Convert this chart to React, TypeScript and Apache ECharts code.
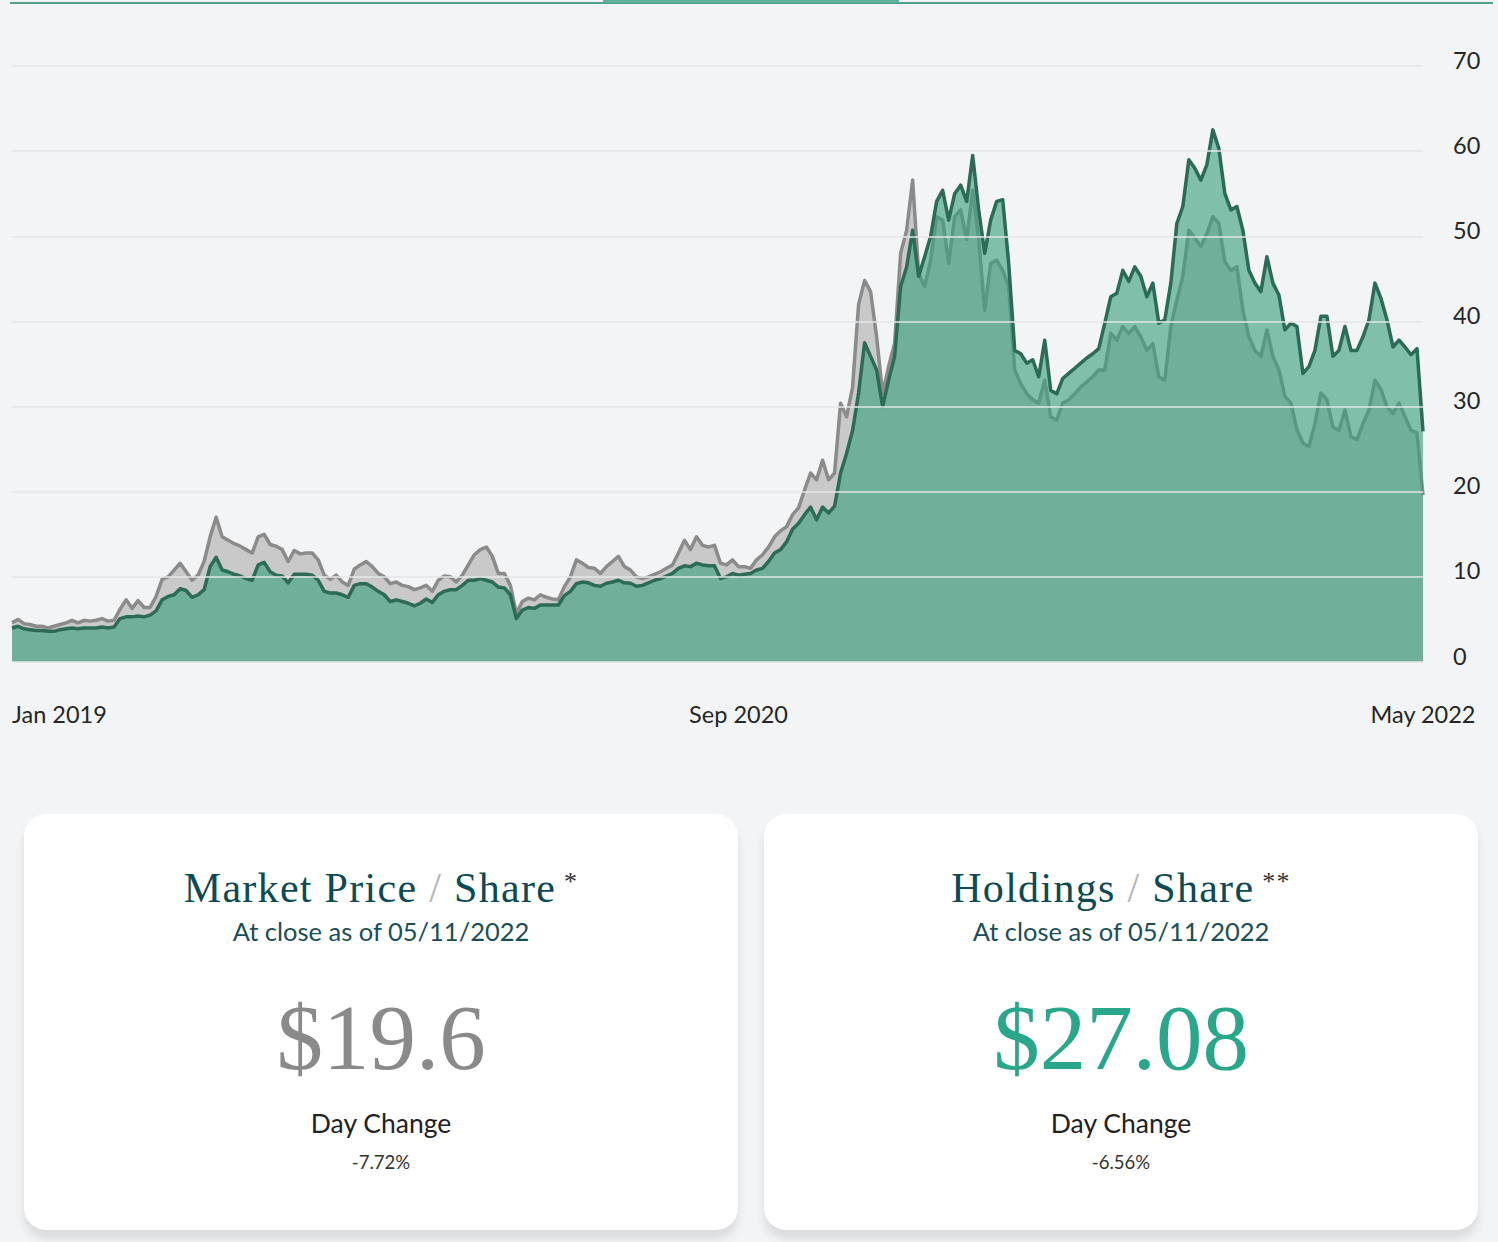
import React, { useEffect, useRef } from "react";
import * as echarts from "echarts";

// Market price per share (grey series), sampled evenly from Jan 2019 to 05/11/2022
const marketPrice = [
  4.6, 5.0, 4.5, 4.4, 4.2, 4.2, 4.0, 4.2, 4.4, 4.6,
  4.9, 4.6, 4.9, 4.8, 4.9, 5.1, 4.8, 4.9, 6.2, 7.3,
  6.3, 7.2, 6.4, 6.4, 7.7, 9.7, 10.0, 10.8, 11.6, 10.6,
  9.6, 10.2, 11.8, 14.7, 17.0, 14.7, 14.3, 13.9, 13.6, 13.2,
  12.8, 14.7, 15.0, 13.8, 13.6, 13.2, 11.8, 13.1, 12.7, 12.8,
  12.8, 12.0, 10.2, 9.7, 10.2, 9.4, 9.0, 10.9, 11.4, 11.8,
  11.2, 10.4, 10.0, 9.2, 9.4, 9.0, 8.85, 8.5, 8.7, 9.0,
  8.3, 9.6, 10.1, 10.0, 9.4, 10.2, 11.4, 12.6, 13.2, 13.5,
  12.4, 10.4, 10.4, 9.0, 5.7, 7.1, 7.5, 7.3, 7.9, 7.6,
  7.4, 7.3, 8.85, 10.0, 12.0, 11.6, 11.1, 11.0, 10.4, 11.2,
  11.8, 12.4, 11.2, 10.8, 10.0, 9.8, 10.0, 10.3, 10.6, 11.0,
  11.4, 12.8, 14.3, 13.2, 14.7, 13.7, 13.5, 13.7, 11.6, 11.4,
  12.0, 11.2, 11.2, 11.0, 12.0, 12.6, 13.5, 14.7, 15.4, 15.9,
  17.3, 18.1, 20.2, 22.2, 21.4, 23.7, 21.4, 22.2, 30.4, 28.8,
  32.3, 42.0, 44.8, 43.5, 38.2, 31.5, 34.7, 37.4, 48.0, 50.7,
  56.6, 45.6, 44.1, 47.2, 52.3, 51.9, 46.8, 52.3, 53.1, 49.6,
  55.4, 49.6, 41.3, 46.8, 47.2, 46.0, 44.1, 34.3, 32.7, 31.5,
  30.8, 30.4, 33.1, 28.8, 28.4, 30.4, 30.8, 31.5, 32.3, 32.9,
  33.5, 34.3, 34.3, 38.6, 37.8, 39.4, 38.6, 39.4, 38.2, 36.6,
  37.4, 33.5, 33.1, 39.4, 42.5, 45.3, 50.7, 49.8, 48.8, 50.3,
  52.3, 51.5, 47.0, 46.0, 46.4, 41.3, 38.2, 36.6, 35.9, 39.0,
  35.9, 34.3, 31.2, 30.4, 27.3, 25.7, 25.3, 28.0, 31.6, 30.8,
  27.6, 27.2, 29.6, 26.5, 26.1, 28.0, 29.6, 33.1, 32.0, 30.0,
  29.2, 30.4, 28.8, 27.2, 26.9, 19.6,
];

// Holdings per share (green series)
const holdings = [
  4.0, 4.2, 3.9, 3.8, 3.7, 3.7, 3.6, 3.6, 3.8, 3.9,
  4.0, 3.9, 4.0, 4.0, 4.0, 4.1, 4.0, 4.1, 5.1, 5.3,
  5.3, 5.4, 5.3, 5.5, 6.0, 7.3, 7.7, 7.9, 8.6, 8.4,
  7.6, 7.9, 8.5, 11.2, 12.3, 10.8, 10.6, 10.3, 10.1, 9.8,
  9.6, 11.4, 11.7, 10.6, 10.2, 10.1, 9.3, 10.3, 10.3, 10.3,
  10.2, 9.6, 8.3, 8.1, 8.1, 7.9, 7.6, 9.0, 9.2, 9.2,
  8.8, 8.3, 7.9, 7.1, 7.3, 7.1, 6.9, 6.6, 6.9, 7.4,
  7.0, 7.9, 8.3, 8.5, 8.5, 9.0, 9.6, 9.6, 9.8, 9.6,
  9.4, 8.8, 8.7, 7.9, 5.1, 6.1, 6.4, 6.3, 6.7, 6.7,
  6.7, 6.7, 7.8, 8.3, 9.2, 9.4, 9.3, 9.0, 8.9, 9.25,
  9.4, 9.6, 9.3, 9.25, 8.9, 9.0, 9.3, 9.6, 9.8, 10.1,
  10.4, 11.0, 11.3, 11.2, 11.6, 11.4, 11.3, 11.3, 9.8, 10.0,
  10.4, 10.2, 10.3, 10.4, 10.8, 11.0, 11.8, 12.8, 13.2, 14.1,
  15.6, 16.3, 17.3, 18.2, 16.7, 18.2, 17.5, 18.3, 22.2, 24.5,
  27.2, 31.6, 37.5, 35.9, 34.3, 30.0, 33.1, 35.9, 44.1, 46.4,
  50.7, 45.3, 47.6, 50.0, 54.1, 55.4, 51.9, 55.0, 56.0, 54.1,
  59.5, 53.1, 48.0, 51.9, 54.1, 54.3, 46.8, 36.6, 36.2, 35.1,
  35.5, 33.5, 37.8, 31.9, 31.5, 33.3, 33.9, 34.5, 35.1, 35.7,
  36.2, 36.8, 39.8, 42.9, 43.3, 46.0, 44.7, 46.4, 45.3, 42.9,
  44.5, 39.8, 40.2, 44.5, 51.5, 53.5, 59.0, 58.0, 56.6, 58.4,
  62.5, 60.3, 55.0, 53.1, 53.5, 50.7, 46.0, 44.5, 43.5, 47.6,
  44.5, 43.1, 39.0, 39.8, 39.4, 33.9, 34.7, 36.6, 40.6, 40.6,
  35.9, 36.6, 39.4, 36.6, 36.6, 38.2, 40.2, 44.5, 42.7, 40.2,
  37.0, 37.8, 37.0, 36.1, 36.8, 27.08,
];

// X-axis tick labels and the sample index each one sits on
const xTickLabels = ["Jan 2019", "Sep 2020", "May 2022"];
const xTickIndex = [0, 121, 235];

// Y-axis range
const yMin = 0;
const yMax = 70;
const yStep = 10;

const SANS = "Lato, 'Open Sans', sans-serif";
const SERIF = "'Liberation Serif', 'DejaVu Serif', serif";

function PriceChart() {
  const ref = useRef<HTMLDivElement>(null);
  useEffect(() => {
    if (!ref.current) return;
    const chart = echarts.init(ref.current, null, { renderer: "svg" });
    const categories = marketPrice.map((_, i) => String(i));
    chart.setOption({
      animation: false,
      backgroundColor: "transparent",
      grid: { left: 12, right: 75, top: 66, bottom: 108, containLabel: false },
      xAxis: {
        type: "category",
        data: categories,
        boundaryGap: false,
        axisLine: { show: false },
        axisTick: { show: false },
        splitLine: { show: false },
        axisLabel: {
          interval: (idx: number) => xTickIndex.includes(idx),
          formatter: (_v: string, idx: number) => {
            const k = xTickIndex.indexOf(idx);
            return k >= 0 ? xTickLabels[k] : "";
          },
          showMinLabel: true,
          showMaxLabel: true,
          alignMinLabel: "left",
          alignMaxLabel: "center",
          color: "#262626",
          fontSize: 23.5,
          fontFamily: SANS,
          margin: 40,
        },
      },
      yAxis: {
        type: "value",
        position: "right",
        min: yMin,
        max: yMax,
        interval: yStep,
        z: 5,
        axisLine: { show: false },
        axisTick: { show: false },
        splitLine: { show: true, lineStyle: { color: "#e3e6e8", width: 1.5 } },
        axisLabel: {
          color: "#262626",
          fontSize: 23.5,
          fontFamily: SANS,
          margin: 30,
          verticalAlign: "bottom",
          lineHeight: 13,
        },
      },
      series: [
        {
          name: "Market Price / Share",
          type: "line",
          data: marketPrice,
          showSymbol: false,
          symbol: "none",
          z: 2,
          lineStyle: { color: "#8b8b8b", width: 3.5, join: "round" },
          areaStyle: { color: "#c9c9c9", opacity: 1 },
        },
        {
          name: "Holdings / Share",
          type: "line",
          data: holdings,
          showSymbol: false,
          symbol: "none",
          z: 3,
          lineStyle: { color: "#2d6b57", width: 3.5, join: "round" },
          areaStyle: { color: "rgb(60,160,125)", opacity: 0.63 },
        },
      ],
    });
    return () => chart.dispose();
  }, []);
  return (
    <div
      ref={ref}
      style={{ position: "absolute", left: 0, top: 0, width: 1498, height: 770 }}
    />
  );
}

function Card(props: {
  left: number;
  title: string;
  star: string;
  price: string;
  priceColor: string;
  change: string;
}) {
  const { left, title, star, price, priceColor, change } = props;
  const lineBase: React.CSSProperties = {
    position: "absolute",
    left: 0,
    right: 0,
    textAlign: "center",
    lineHeight: 1,
    whiteSpace: "nowrap",
  };
  return (
    <div
      style={{
        position: "absolute",
        left,
        top: 814,
        width: 714,
        height: 416,
        background: "#ffffff",
        borderRadius: 22,
        boxShadow: "0 9px 10px rgba(0,0,0,0.10)",
      }}
    >
      <div
        style={{
          ...lineBase,
          top: 53,
          fontFamily: SERIF,
          fontSize: 42,
          letterSpacing: 1.3,
          color: "#0e4a52",
        }}
      >
        {title}
        <span style={{ color: "#b5b5b5", fontWeight: 300 }}> / </span>
        Share
        <span style={{ color: "#333", fontSize: 26, verticalAlign: 12 }}> {star}</span>
      </div>
      <div
        style={{
          ...lineBase,
          top: 105,
          fontFamily: SANS,
          fontSize: 25.5,
          color: "#1a4f57",
        }}
      >
        At close as of 05/11/2022
      </div>
      <div
        style={{
          ...lineBase,
          top: 177,
          fontFamily: SERIF,
          fontSize: 93,
          color: priceColor,
        }}
      >
        {price}
      </div>
      <div
        style={{
          ...lineBase,
          top: 296,
          fontFamily: SANS,
          fontSize: 26.5,
          color: "#222222",
        }}
      >
        Day Change
      </div>
      <div
        style={{
          ...lineBase,
          top: 339,
          fontFamily: SANS,
          fontSize: 18.5,
          color: "#333333",
        }}
      >
        {change}
      </div>
    </div>
  );
}

export default function App() {
  return (
    <div
      style={{
        position: "relative",
        width: 1498,
        height: 1242,
        background: "#f3f4f6",
        overflow: "hidden",
      }}
    >
      <style>{`html,body{margin:0;padding:0;background:#f3f4f6;}`}</style>
      <div
        style={{
          position: "absolute",
          left: 10,
          top: 2,
          width: 1483,
          height: 1.5,
          background: "#4fa08d",
        }}
      />
      <div
        style={{
          position: "absolute",
          left: 603,
          top: 0,
          width: 296,
          height: 2.5,
          background: "#5fb09d",
        }}
      />
      <PriceChart />
      <Card
        left={24}
        title="Market Price"
        star="*"
        price="$19.6"
        priceColor="#8a8a8a"
        change="-7.72%"
      />
      <Card
        left={764}
        title="Holdings"
        star="**"
        price="$27.08"
        priceColor="#2aa78a"
        change="-6.56%"
      />
    </div>
  );
}
